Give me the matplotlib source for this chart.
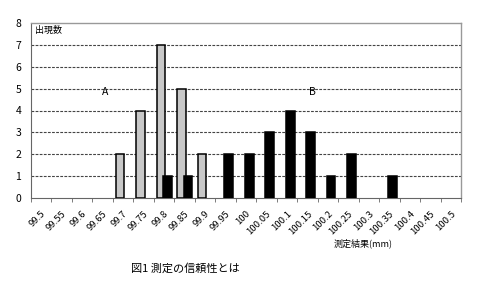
import matplotlib
matplotlib.use("Agg")
import matplotlib.pyplot as plt
import numpy as np

plt.rcParams['font.family'] = ['Noto Sans CJK JP', 'DejaVu Sans']

categories = ["99.5", "99.55", "99.6", "99.65", "99.7", "99.75", "99.8", "99.85", "99.9", "99.95",
              "100", "100.05", "100.1", "100.15", "100.2", "100.25", "100.3", "100.35", "100.4",
              "100.45", "100.5"]
series_a = [0, 0, 0, 0, 2, 4, 7, 5, 2, 0, 0, 0, 0, 0, 0, 0, 0, 0, 0, 0, 0]
series_b = [0, 0, 0, 0, 0, 0, 1, 1, 0, 2, 2, 3, 4, 3, 1, 2, 0, 1, 0, 0, 0]
y_ticks = [0, 1, 2, 3, 4, 5, 6, 7, 8]

fig = plt.figure(figsize=(4.8, 2.88), dpi=100)
ax = fig.add_axes([31/480, 1 - 198/288, 430/480, 175/288])

x = np.arange(len(categories))
a = np.array(series_a)
b = np.array(series_b)
w = 0.42
ma = a > 0
mb = b > 0
ax.bar(x[ma] - 0.155, a[ma], width=w, color='#c8c8c8', edgecolor='black', linewidth=1.1, zorder=3)
ax.bar(x[mb] + 0.16, b[mb], width=w, color='black', edgecolor='black', linewidth=1.1, zorder=4)

ax.set_xlim(-0.5, len(categories) - 0.5)
ax.set_ylim(0, 8)
ax.set_yticks(y_ticks)
ax.tick_params(axis='y', length=0, labelsize=7.5, pad=7)
for yv in y_ticks[1:-1]:
    ax.axhline(yv, color='#444444', linestyle=(0, (2.5, 1.2)), linewidth=0.8, zorder=1)

ax.set_xticks(x)
ax.set_xticklabels(categories, rotation=45, ha='right', rotation_mode='anchor', fontsize=6.8)
ax.tick_params(axis='x', length=0, pad=8)
ax.set_xticks(np.arange(-0.5, len(categories)), minor=True)
ax.tick_params(axis='x', which='minor', length=3, direction='out', color='#666666')

for s in ['top', 'right']:
    ax.spines[s].set_color('#999999')
    ax.spines[s].set_linewidth(1.0)
ax.spines['left'].set_color('#666666')
ax.spines['bottom'].set_color('#666666')

ax.text(0.01, 0.985, '出現数', transform=ax.transAxes, fontsize=6.5, va='top', ha='left')
ax.text(3.1, 4.85, 'A', fontsize=7.5, ha='center', va='center')
ax.text(13.25, 4.85, 'B', fontsize=7.5, ha='center', va='center')

fig.text(363/480, 1 - 243/288, '測定結果(mm)', fontsize=6.5, ha='center', va='center')
fig.text(185/480, 1 - 268/288, '図1 測定の信頼性とは', fontsize=8, ha='center', va='center')

fig.savefig('out.png', dpi=100)
